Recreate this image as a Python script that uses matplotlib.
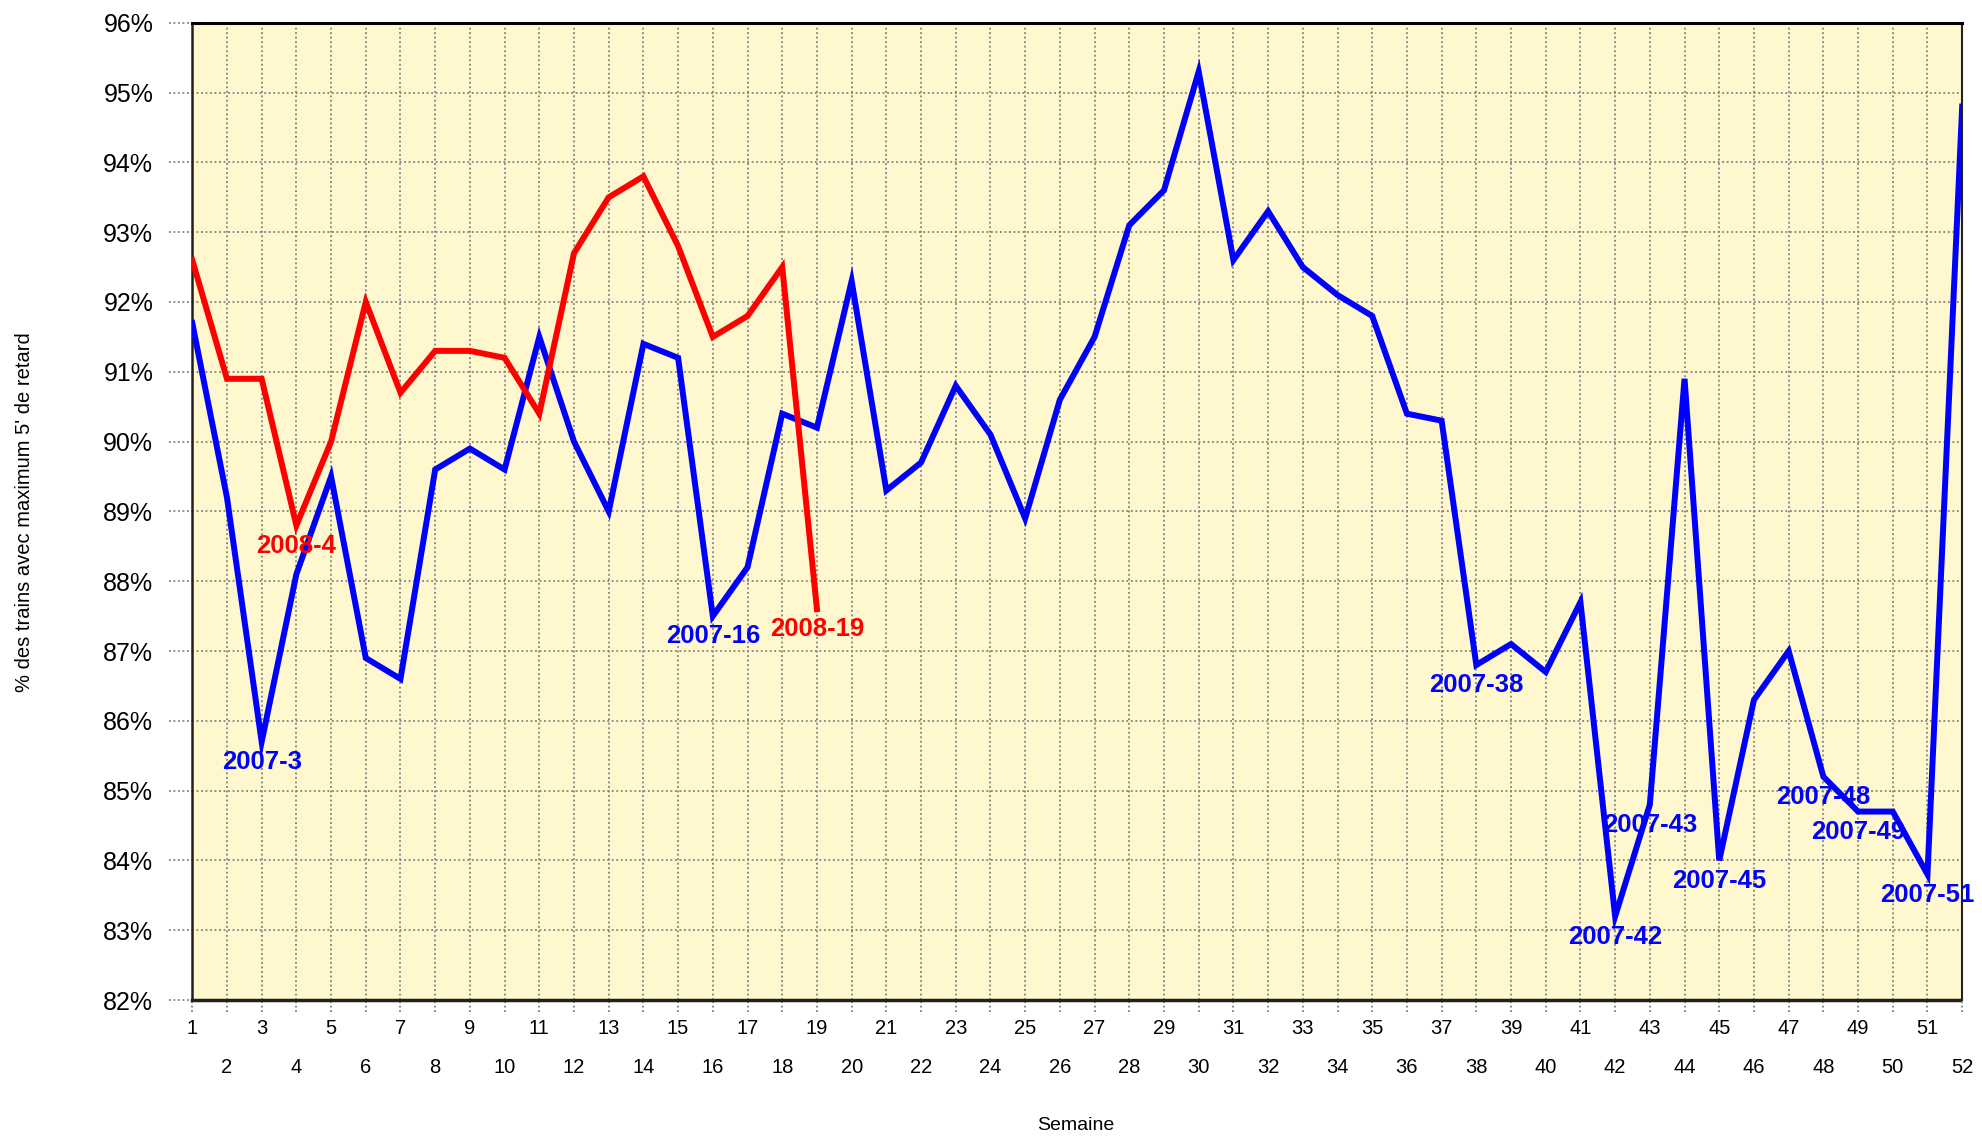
import numpy as np
import matplotlib.pyplot as plt
import matplotlib.transforms as mtransforms

plt.rcParams['font.family'] = ['Liberation Sans', 'DejaVu Sans']

weeks_2007 = list(range(1, 53))
pct_2007 = [91.7, 89.2, 85.7, 88.1, 89.5, 86.9, 86.6, 89.6, 89.9, 89.6,
            91.5, 90.0, 89.0, 91.4, 91.2, 87.5, 88.2, 90.4, 90.2, 92.3,
            89.3, 89.7, 90.8, 90.1, 88.9, 90.6, 91.5, 93.1, 93.6, 95.3,
            92.6, 93.3, 92.5, 92.1, 91.8, 90.4, 90.3, 86.8, 87.1, 86.7,
            87.7, 83.2, 84.8, 90.9, 84.0, 86.3, 87.0, 85.2, 84.7, 84.7,
            83.8, 94.8]
weeks_2008 = list(range(1, 20))
pct_2008 = [92.6, 90.9, 90.9, 88.8, 90.0, 92.0, 90.7, 91.3, 91.3, 91.2,
            90.4, 92.7, 93.5, 93.8, 92.8, 91.5, 91.8, 92.5, 87.6]

labels_2007 = [3, 16, 38, 42, 43, 45, 48, 49, 51]
labels_2008 = [4, 19]

yticks = list(range(82, 97))
odd_weeks = list(range(1, 53, 2))
even_weeks = list(range(2, 53, 2))

fig = plt.figure(figsize=(19.82, 11.39), dpi=100)
ax = fig.add_axes([0.097, 0.122, 0.893, 0.858])
ax.set_facecolor('#FFF8CE')

ax.plot(weeks_2007, pct_2007, color='#0000FF', lw=4.3, solid_joinstyle='miter', zorder=3)
ax.plot(weeks_2008, pct_2008, color='#FF0000', lw=4.3, solid_joinstyle='miter', zorder=4)

for w in labels_2007:
    ax.annotate('2007-%d' % w, (w, pct_2007[w - 1]), xytext=(0, -6),
                textcoords='offset points', ha='center', va='top',
                color='#0000FF', fontsize=18.5, fontweight='bold', zorder=5)
for w in labels_2008:
    ax.annotate('2008-%d' % w, (w, pct_2008[w - 1]), xytext=(0, -6),
                textcoords='offset points', ha='center', va='top',
                color='#FF0000', fontsize=18.5, fontweight='bold', zorder=5)

ax.set_xlim(1, 52)
ax.set_ylim(82, 96)
ax.set_yticks(yticks)
ax.set_yticklabels(['%d%%' % v for v in yticks], fontsize=18)
ax.set_xticks(odd_weeks)
ax.set_xticklabels([str(w) for w in odd_weeks], fontsize=14.5)
ax.set_xticks(even_weeks, minor=True)
ax.set_xticklabels([str(w) for w in even_weeks], minor=True, fontsize=14.5)

ax.tick_params(axis='y', which='major', length=0, pad=28)
ax.tick_params(axis='x', which='major', length=0, pad=14)
ax.tick_params(axis='x', which='minor', length=0, pad=42)

ax.grid(True, which='both', color='#808080', linestyle=(0, (1, 1.5)), lw=1.3, zorder=1)

# dotted tick stubs outside the frame
ty = mtransforms.blended_transform_factory(ax.transAxes, ax.transData)
for v in yticks:
    ax.plot([-0.013, 0], [v, v], transform=ty, color='#808080',
            linestyle=(0, (1, 1.5)), lw=1.3, clip_on=False)
tx = mtransforms.blended_transform_factory(ax.transData, ax.transAxes)
for w in weeks_2007:
    ax.plot([w, w], [-0.012, 0], transform=tx, color='#808080',
            linestyle=(0, (1, 1.5)), lw=1.3, clip_on=False)

ax.spines['top'].set_linewidth(2.2)
ax.spines['top'].set_color('black')
for s in ['left', 'right', 'bottom']:
    ax.spines[s].set_linestyle((0, (1, 1)))
    ax.spines[s].set_color('#202020')
ax.spines['bottom'].set_linewidth(2.5)
ax.spines['left'].set_linewidth(1.8)
ax.spines['right'].set_linewidth(1.5)

fig.text(0.0126, 0.55, "% des trains avec maximum 5' de retard", rotation=90,
         ha='center', va='center', fontsize=14.5)
fig.text(0.543, 0.012, 'Semaine', ha='center', va='center', fontsize=14)

fig.savefig('out.png', dpi=100)
